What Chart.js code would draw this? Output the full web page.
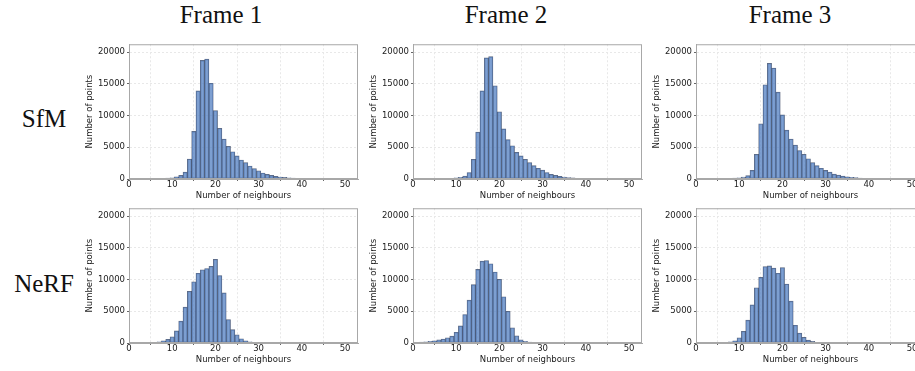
<!DOCTYPE html>
<html>
<head>
<meta charset="utf-8">
<script src="https://cdn.jsdelivr.net/npm/chart.js@4/dist/chart.umd.min.js"></script>
<style>
  body { margin: 0; width: 915px; height: 371px; overflow: hidden; background: #fff; position: relative; }
  canvas { position: absolute; }
  .ttl { position: absolute; font-family: "Liberation Serif", serif; font-size: 25px; line-height: 25px; color: #111; white-space: nowrap; transform: translateX(-50%); }
</style>
</head>
<body>
<div class="ttl" style="left:221px; top:2px;">Frame 1</div>
<div class="ttl" style="left:506px; top:2px;">Frame 2</div>
<div class="ttl" style="left:790px; top:2px;">Frame 3</div>
<div class="ttl" style="left:44px; top:106px;">SfM</div>
<div class="ttl" style="left:44px; top:271px;">NeRF</div>

<canvas id="c1" width="283" height="165" style="left:79px; top:38px;"></canvas>
<canvas id="c2" width="283" height="165" style="left:363px; top:38px;"></canvas>
<canvas id="c3" width="283" height="165" style="left:646px; top:38px;"></canvas>
<canvas id="c4" width="283" height="165" style="left:79px; top:202px;"></canvas>
<canvas id="c5" width="283" height="165" style="left:363px; top:202px;"></canvas>
<canvas id="c6" width="283" height="165" style="left:646px; top:202px;"></canvas>

<script>
// bin centres (number of neighbours)
var bins = [1,2,3,4,5,6,7,8,9,10,11,12,13,14,15,16,17,18,19,20,21,22,23,24,25,26,27,28,29,30,31,32,33,34,35,36,37,38,39,40,41,42,43,44,45,46];

var sfmFrame1 = [0,0,0,10,20,30,50,80,130,200,360,570,1080,3150,7500,13900,18700,18900,15100,10800,8000,6300,5150,4300,3650,3000,2600,2050,1650,1300,950,720,570,410,320,250,190,140,100,80,60,40,30,20,10,0];
var sfmFrame2 = [0,10,15,20,25,30,50,80,120,180,280,460,1030,3100,7400,13900,19100,19300,14700,10600,7900,6200,5250,4200,3650,3100,2600,2100,1700,1400,1030,720,570,410,300,230,170,120,90,60,40,30,20,10,0,0];
var sfmFrame3 = [0,10,15,20,25,35,50,80,130,200,300,520,1350,3900,8700,14850,18250,17500,13700,10100,7700,6300,5350,4500,3900,3200,2600,2100,1700,1350,1080,770,620,460,360,280,220,160,120,90,70,50,30,20,10,0];
var nerfFrame1 = [0,20,30,50,80,120,200,360,570,980,1900,3450,5650,8150,9650,11000,11550,11750,12100,13200,10650,7900,3700,2100,1300,670,360,200,120,80,70,50,30,20,10,0,0,0,0,0,0,0,0,0,0,0];
var nerfFrame2 = [50,150,200,260,360,500,620,820,1080,1700,2700,4500,6750,9200,11600,12900,13000,12500,11200,10050,7300,5000,2400,1130,500,260,150,100,70,50,30,20,0,0,0,0,0,0,0,0,0,0,0,0,0,0];
var nerfFrame3 = [0,10,20,30,50,80,120,200,360,820,1850,3600,6000,8700,10350,12050,12150,11800,11000,11900,9300,6600,2800,1550,900,450,250,120,80,50,30,0,0,0,0,0,0,0,0,0,0,0,0,0,0,0];

var xTicks = [0,10,20,30,40,50];
var yTicks = [0,5000,10000,15000,20000];

var tickFont = { family: "'DejaVu Sans', sans-serif", size: 8.5, lineHeight: 1 };

const frameBox = {
  id: 'frameBox',
  afterDraw: (chart) => {
    const {ctx, chartArea} = chart;
    ctx.save();
    ctx.strokeStyle = '#a8a8a8';
    ctx.lineWidth = 1;
    ctx.strokeRect(chartArea.left + 0.5, chartArea.top + 0.5, chartArea.right - chartArea.left - 1, chartArea.bottom - chartArea.top - 1);
    ctx.restore();
  }
};

function makeHist(id, values){
  var pts = [];
  bins.forEach((b, i) => { pts.push({x: b, y: values[i]}); });
  new Chart(document.getElementById(id), {
    type: 'bar',
    data: {
      datasets: [{
        data: pts,
        backgroundColor: 'rgba(88,132,196,0.78)',
        borderColor: 'rgba(40,55,85,0.75)',
        borderWidth: 0.7,
        borderSkipped: false,
        barPercentage: 1,
        categoryPercentage: 1
      }]
    },
    options: {
      responsive: false,
      animation: false,
      layout: { padding: { top: 4, right: 4, left: 0, bottom: 0 } },
      plugins: { legend: { display: false }, tooltip: { enabled: false } },
      scales: {
        x: {
          type: 'linear',
          offset: false,
          min: 0,
          max: 53,
          afterBuildTicks: s => { s.ticks = xTicks.map(v => ({value: v})); },
          afterFit: s => { s.height = 24; },
          grid: { color: '#e8e8e8', tickColor: '#666', tickLength: 2 },
          border: { color: '#a8a8a8', dash: [2, 2] },
          ticks: { font: tickFont, color: '#222', padding: 0, maxRotation: 0 },
          title: { display: true, text: 'Number of neighbours', font: tickFont, color: '#222', padding: { top: 0, bottom: 3 } }
        },
        y: {
          min: 0,
          max: 21250,
          afterBuildTicks: s => { s.ticks = yTicks.map(v => ({value: v})); },
          afterFit: s => { s.width = 50; },
          grid: { color: '#e8e8e8', tickColor: '#666', tickLength: 2 },
          border: { color: '#a8a8a8', dash: [2, 2] },
          ticks: { font: tickFont, color: '#222', padding: 2, callback: v => String(v) },
          title: { display: true, text: 'Number of points', font: tickFont, color: '#222', padding: { top: 7, bottom: 0 } }
        }
      }
    },
    plugins: [frameBox]
  });
}

makeHist('c1', sfmFrame1);
makeHist('c2', sfmFrame2);
makeHist('c3', sfmFrame3);
makeHist('c4', nerfFrame1);
makeHist('c5', nerfFrame2);
makeHist('c6', nerfFrame3);
</script>
</body>
</html>
